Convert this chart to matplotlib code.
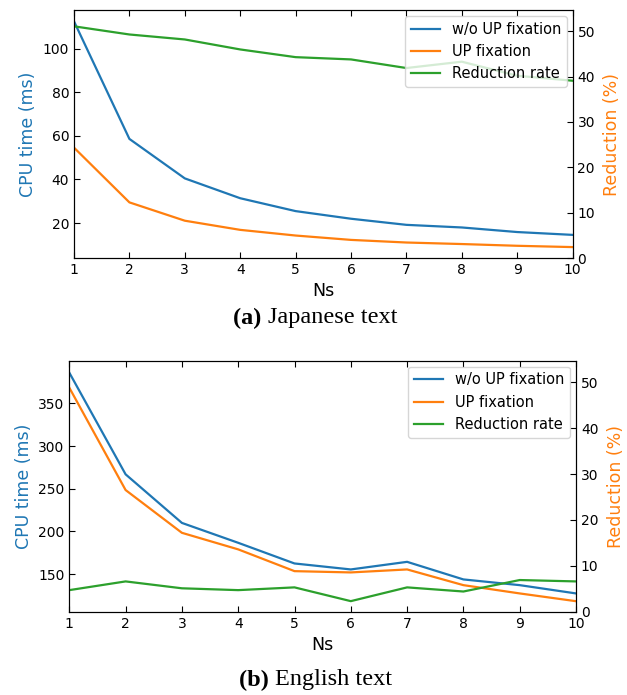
import matplotlib
matplotlib.use("Agg")
import matplotlib.pyplot as plt

ns = [1, 2, 3, 4, 5, 6, 7, 8, 9, 10]

ja_wo_fix = [112.5, 58.6, 40.5, 31.4, 25.5, 22.0, 19.2, 18.0, 15.9, 14.6]
ja_fix = [54.6, 29.5, 21.1, 16.9, 14.3, 12.3, 11.1, 10.4, 9.6, 9.0]
ja_reduction = [51.1, 49.3, 48.2, 46.0, 44.3, 43.8, 41.9, 43.3, 40.2, 39.1]

en_wo_fix = [386, 266.9, 210, 186.7, 162.5, 155.5, 164.4, 143.8, 137.1, 127.4]
en_fix = [368.4, 248.5, 198.4, 179, 153.5, 152, 155.5, 137.1, 127.4, 118.3]
en_reduction = [4.7, 6.6, 5.1, 4.7, 5.3, 2.3, 5.3, 4.4, 6.9, 6.6]

labels = ["w/o UP fixation", "UP fixation", "Reduction rate"]
captions = [("(a)", "Japanese text"), ("(b)", "English text")]

C_BLUE = "#1f77b4"
C_ORANGE = "#ff7f0e"
C_GREEN = "#2ca02c"

fig = plt.figure(figsize=(6.27, 6.95), dpi=100)

panels = [
    dict(rect=[74/627, 1-258/695, (572.6-74)/627, (258-10)/695],
         wo=ja_wo_fix, fix=ja_fix, red=ja_reduction, ylim=(4, 117.7),
         yticks=[20, 40, 60, 80, 100], cap_y=1-318/695, cap_x=233/627,
         cap=captions[0]),
    dict(rect=[69.3/627, 1-611.7/695, (576-69.3)/627, (611.7-360.7)/695],
         wo=en_wo_fix, fix=en_fix, red=en_reduction, ylim=(106, 400),
         yticks=[150, 200, 250, 300, 350], cap_y=1-680/695, cap_x=239/627,
         cap=captions[1]),
]

renderer = fig.canvas.get_renderer()
for p in panels:
    ax = fig.add_axes(p["rect"])
    l1, = ax.plot(ns, p["wo"], color=C_BLUE, lw=1.6)
    l2, = ax.plot(ns, p["fix"], color=C_ORANGE, lw=1.6)
    ax.set_xlim(1, 10)
    ax.set_ylim(*p["ylim"])
    ax.set_xticks(ns)
    ax.set_yticks(p["yticks"])
    ax.tick_params(direction="in", top=True, labelsize=10, length=4)
    ax.set_xlabel("Ns", fontsize=12.5)
    ax.set_ylabel("CPU time (ms)", color=C_BLUE, fontsize=12.5)
    ax2 = ax.twinx()
    l3, = ax2.plot(ns, p["red"], color=C_GREEN, lw=1.6)
    ax2.set_ylim(0, 54.7)
    ax2.set_yticks([0, 10, 20, 30, 40, 50])
    ax2.tick_params(direction="in", labelsize=10, length=4)
    ax2.set_ylabel("Reduction (%)", color=C_ORANGE, fontsize=12.5, labelpad=6)
    ax2.legend([l1, l2, l3], labels, loc="upper right", fontsize=10.5,
               framealpha=0.8, edgecolor="#cccccc", fancybox=True,
               borderaxespad=0.4)
    bold, rest = p["cap"]
    t1 = fig.text(p["cap_x"], p["cap_y"], bold + " ", ha="left", va="center",
                  family="Liberation Serif", fontsize=17.5, weight="bold")
    bb = t1.get_window_extent(renderer=renderer)
    fig.text(bb.x1 / fig.bbox.width, p["cap_y"], rest, ha="left", va="center",
             family="Liberation Serif", fontsize=17.5)

fig.savefig("out.png", dpi=100)
